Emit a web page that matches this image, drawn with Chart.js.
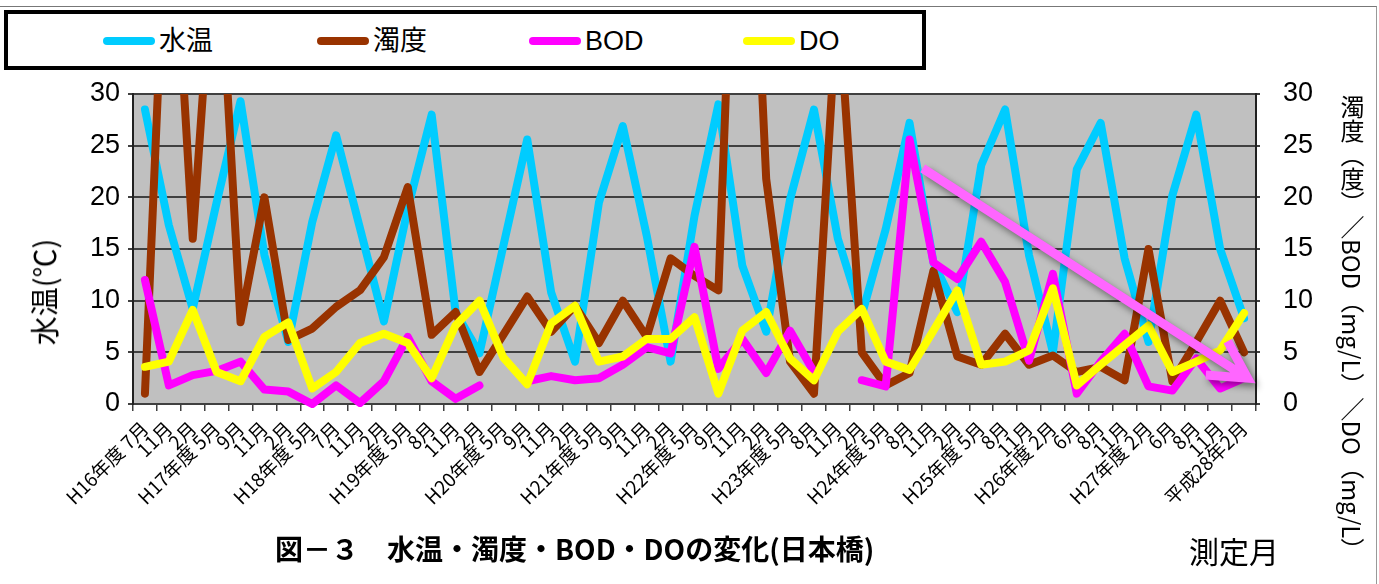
<!DOCTYPE html>
<html lang="ja">
<head>
  <meta charset="utf-8" />
  <title>水温・濁度・BOD・DOの変化(日本橋)</title>
  <script src="https://cdn.jsdelivr.net/npm/chart.js"></script>
  <style>
    html, body { margin: 0; padding: 0; background: #fff; }
    body { width: 1379px; height: 584px; position: relative; overflow: hidden;
           font-family: "Liberation Sans", "Noto Sans CJK JP", sans-serif; color: #000; }
    #frame { position: absolute; left: 0; top: 6px; width: 1376px; height: 590px;
             border-top: 1px solid #777; border-right: 1px solid #999; }
    #chart { position: absolute; left: 0; top: 0; }
    .legend { position: absolute; left: 4px; top: 10px; width: 914px; height: 52px;
              border: 4px solid #000; background: #fff; }
    .legend .item { position: absolute; top: 12px; height: 30px; font-size: 27px; line-height: 30px; }
    .legend .swatch { display: inline-block; width: 52px; height: 8px; border-radius: 4px;
                      vertical-align: middle; margin-right: 4px; position: relative; top: -2px; }
    .ytitle { position: absolute; white-space: nowrap; }
    #leftTitle { left: 43px; top: 292px; font-size: 29px;
                 font-family: "Noto Sans CJK JP", sans-serif;
                 transform: translate(-50%, -50%) rotate(-90deg); }
    #rightTitle { left: 1335px; top: 95px; writing-mode: vertical-rl; font-size: 24px;
                  font-family: "Noto Sans CJK JP", sans-serif; }
    #caption { position: absolute; left: 275px; top: 528px; font-size: 28px; font-weight: bold;
               font-family: "Noto Sans CJK JP", sans-serif; white-space: nowrap; }
    #xTitle { position: absolute; left: 1189px; top: 528px; font-size: 30px;
              font-family: "Noto Sans CJK JP", sans-serif; }
  </style>
</head>
<body>
  <div id="frame"></div>
  <canvas id="chart" width="1379" height="584"></canvas>

  <div class="legend" id="legend"></div>
  <div class="ytitle" id="leftTitle">水温(℃)</div>
  <div class="ytitle" id="rightTitle">濁度（度）／BOD（mg/L）／DO（mg/L）</div>
  <div id="caption">図－３　水温・濁度・BOD・DOの変化(日本橋)</div>
  <div id="xTitle">測定月</div>

  <script>
    // 測定月
    const months = [
      'H16年度 7月', '11月', '2月',
      'H17年度 5月', '9月', '11月', '2月',
      'H18年度 5月', '7月', '11月', '2月',
      'H19年度 5月', '8月', '11月', '2月',
      'H20年度 5月', '9月', '11月', '2月',
      'H21年度 5月', '9月', '11月', '2月',
      'H22年度 5月', '9月', '11月', '2月',
      'H23年度 5月', '8月', '11月', '2月',
      'H24年度 5月', '8月', '11月', '2月',
      'H25年度 5月', '8月', '11月',
      'H26年度 2月', '6月', '8月', '11月',
      'H27年度 2月', '6月', '8月', '11月',
      '平成28年2月'
    ];

    // 水温 (℃)
    const waterTemp = [28.5, 17.3, 9.2, 19.5, 29.3, 14.4, 6.0, 17.6, 26.0, 17.0, 8.0, 18.9, 28.0, 8.9, 4.9, 15.3,
      25.6, 10.8, 4.1, 19.5, 26.9, 16.3, 4.1, 18.2, 29.0, 13.4, 7.0, 19.8, 28.5, 16.0, 8.6, 16.9,
      27.2, 13.7, 8.9, 23.1, 28.5, 14.4, 5.0, 22.7, 27.2, 14.1, 6.0, 20.2, 28.0, 15.0, 8.3];

    // 濁度 (度)
    const turbidity = [1.0, 55, 16.0, 49, 7.9, 20.0, 6.2, 7.3, 9.4, 11.0, 14.2, 21.0, 6.7, 8.9, 3.1, 6.7,
      10.4, 7.0, 9.5, 5.9, 10.0, 6.5, 14.1, 12.4, 11.0, 72, 21.8, 4.1, 1.0, 40, 5.0, 1.8,
      3.0, 12.9, 4.6, 3.8, 6.8, 3.8, 4.7, 3.1, 3.6, 2.3, 15.0, 2.2, 6.0, 10.0, 5.0];

    // BOD (mg/L)
    const bod = [12.0, 1.8, 2.8, 3.2, 4.1, 1.4, 1.2, 0, 1.8, 0.1, 2.2, 6.5, 2.2, 0.5, 1.8, null,
      2.2, 2.7, 2.3, 2.5, 3.8, 5.5, 4.9, 15.2, 3.4, 6.3, 3.0, 7.1, 3.1, null, 2.3, 1.7,
      25.6, 13.7, 12.1, 15.7, 11.8, 4.2, 12.6, 1.0, 4.1, 6.8, 1.7, 1.3, 4.4, 1.5, 2.5];

    // DO (mg/L)
    const dissolvedO2 = [3.6, 4.1, 9.1, 3.1, 2.2, 6.5, 7.9, 1.5, 3.1, 5.9, 6.8, 5.9, 2.5, 7.6, 10.0, 4.5,
      1.9, 7.8, 9.5, 4.1, 4.6, 6.3, 6.3, 8.4, 1.0, 7.1, 8.9, 4.4, 2.3, 7.0, 9.2, 4.1,
      3.3, 7.1, 11.0, 3.8, 4.1, 5.2, 11.2, 1.8, 3.8, 5.7, 7.6, 3.1, 4.1, 5.2, 8.8];

    // 減少傾向の矢印 (index, value)
    const trendFrom = [32.55, 22.8];
    const trendTo = [46.15, 2.5];

    const yTicks = [0, 5, 10, 15, 20, 25, 30];

    const series = [
      { label: '水温', data: waterTemp, color: '#00ccff', axis: 'y', order: 4 },
      { label: '濁度', data: turbidity, color: '#993300', axis: 'y2', order: 3 },
      { label: 'BOD', data: bod, color: '#ff00ff', axis: 'y2', order: 2 },
      { label: 'DO', data: dissolvedO2, color: '#ffff00', axis: 'y2', order: 1 }
    ];

    // legend
    const legendX = [95, 309, 521, 735];
    const legendEl = document.getElementById('legend');
    series.forEach((s, i) => {
      const item = document.createElement('div');
      item.className = 'item';
      item.style.left = legendX[i] + 'px';
      item.innerHTML = '<span class="swatch" style="background:' + s.color + '"></span>' + s.label;
      legendEl.appendChild(item);
    });

    const plotBg = {
      id: 'plotBg',
      beforeDraw(chart) {
        const { ctx, chartArea: a } = chart;
        ctx.save();
        ctx.fillStyle = '#c0c0c0';
        ctx.fillRect(a.left, a.top, a.right - a.left, a.bottom - a.top);
        ctx.restore();
      }
    };

    const trendArrow = {
      id: 'trendArrow',
      afterDatasetsDraw(chart) {
        const { ctx } = chart;
        const xs = chart.scales.x, ys = chart.scales.y2;
        const x1 = xs.getPixelForValue(trendFrom[0]), y1 = ys.getPixelForValue(trendFrom[1]);
        const x2 = xs.getPixelForValue(trendTo[0]), y2 = ys.getPixelForValue(trendTo[1]);
        const ang = Math.atan2(y2 - y1, x2 - x1);
        const head = 42, spread = 0.5;
        ctx.save();
        ctx.strokeStyle = '#ff66ff';
        ctx.lineWidth = 9;
        ctx.lineCap = 'butt';
        ctx.lineJoin = 'miter';
        ctx.shadowColor = 'rgba(0,0,0,0.45)';
        ctx.shadowBlur = 7;
        ctx.shadowOffsetX = 3;
        ctx.shadowOffsetY = 4;
        ctx.beginPath();
        ctx.moveTo(x1, y1);
        ctx.lineTo(x2, y2);
        ctx.moveTo(x2 - head * Math.cos(ang - spread), y2 - head * Math.sin(ang - spread));
        ctx.lineTo(x2, y2);
        ctx.lineTo(x2 - head * Math.cos(ang + spread), y2 - head * Math.sin(ang + spread));
        ctx.stroke();
        ctx.restore();
      }
    };

    const tickFont = { family: '"Liberation Sans", sans-serif', size: 27 };

    new Chart(document.getElementById('chart'), {
      type: 'line',
      data: {
        labels: months,
        datasets: series.map(s => ({
          label: s.label,
          data: s.data,
          yAxisID: s.axis,
          order: s.order,
          borderColor: s.color,
          backgroundColor: s.color,
          borderWidth: 8,
          borderJoinStyle: 'round',
          borderCapStyle: 'round',
          pointRadius: 0,
          tension: 0,
          spanGaps: false,
          clip: { left: 0, top: 0, right: 0, bottom: 8 }
        }))
      },
      options: {
        responsive: false,
        animation: false,
        devicePixelRatio: 1,
        layout: { padding: { top: 94, left: 0, right: 0, bottom: 0 } },
        plugins: { legend: { display: false }, tooltip: { enabled: false } },
        scales: {
          x: {
            offset: true,
            afterFit(scale) { scale.height = 180; },
            grid: { drawOnChartArea: false, color: '#404040', lineWidth: 1.5, tickLength: 7, offset: true },
            border: { color: '#404040', width: 2 },
            ticks: {
              autoSkip: false, maxRotation: 45, minRotation: 45, padding: 6,
              color: '#000', font: { family: '"Noto Sans CJK JP", sans-serif', size: 19 }
            }
          },
          y: {
            position: 'left',
            min: 0, max: 30,
            afterFit(scale) { scale.width = 133; },
            afterBuildTicks(scale) { scale.ticks = yTicks.map(v => ({ value: v })); },
            grid: { color: '#404040', lineWidth: 2, tickLength: 5 },
            border: { color: '#202020', width: 2 },
            ticks: { color: '#000', padding: 8, font: tickFont }
          },
          y2: {
            position: 'right',
            min: 0, max: 30,
            afterFit(scale) { scale.width = 123; },
            afterBuildTicks(scale) { scale.ticks = yTicks.map(v => ({ value: v })); },
            grid: { drawOnChartArea: false, color: '#404040', lineWidth: 2, tickLength: 4 },
            border: { color: '#202020', width: 2 },
            ticks: { color: '#000', padding: 23, font: tickFont }
          }
        }
      },
      plugins: [plotBg, trendArrow]
    });
  </script>
</body>
</html>
